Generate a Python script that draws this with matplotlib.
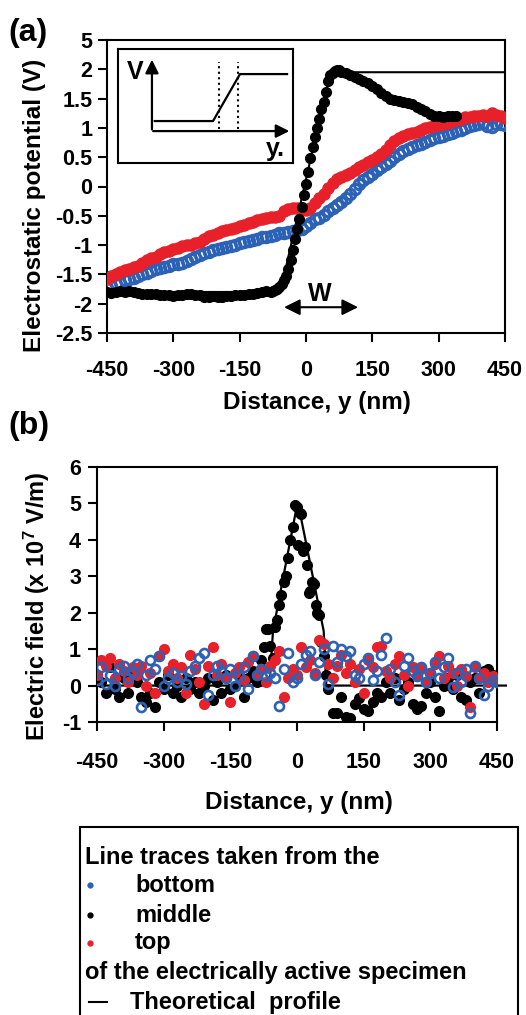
import matplotlib.pyplot as plt
from matplotlib.lines import Line2D
from matplotlib.patches import Rectangle

plt.rcParams['font.family'] = ['Liberation Sans', 'DejaVu Sans']
plt.rcParams['font.weight'] = 'bold'
plt.rcParams['axes.unicode_minus'] = False
plt.rcParams['mathtext.fontset'] = 'custom'
plt.rcParams['mathtext.rm'] = 'Liberation Sans:bold'
plt.rcParams['mathtext.it'] = 'Liberation Sans:bold'
plt.rcParams['mathtext.bf'] = 'Liberation Sans:bold'

RED = '#e8202a'
BLUE = '#2c62b6'

# ---------------- panel (a): electrostatic potential ----------------
xa = list(range(-450, 451, 10))
pot_top = [-1.57, -1.52, -1.49, -1.46, -1.42, -1.40, -1.37, -1.35, -1.30, -1.26,
           -1.22, -1.20, -1.15, -1.12, -1.10, -1.07, -1.05, -1.02, -1.00, -0.99,
           -0.96, -0.95, -0.90, -0.85, -0.82, -0.80, -0.76, -0.74, -0.72, -0.70,
           -0.67, -0.66, -0.62, -0.60, -0.58, -0.55, -0.53, -0.52, -0.52, -0.50,
           -0.42, -0.38, -0.36, -0.37, -0.38, -0.40, -0.36, -0.28, -0.20, -0.12,
           -0.02, 0.06, 0.12, 0.16, 0.19, 0.23, 0.28, 0.33, 0.37, 0.41,
           0.46, 0.50, 0.55, 0.62, 0.70, 0.78, 0.83, 0.86, 0.89, 0.92,
           0.93, 0.96, 0.99, 1.01, 1.03, 1.05, 1.07, 1.09, 1.11, 1.13,
           1.16, 1.18, 1.19, 1.20, 1.21, 1.22, 1.20, 1.26, 1.22, 1.20, 1.17]
pot_bottom = [-1.73, -1.70, -1.66, -1.64, -1.60, -1.58, -1.56, -1.53, -1.50, -1.47,
              -1.44, -1.41, -1.39, -1.37, -1.35, -1.33, -1.32, -1.30, -1.27, -1.24,
              -1.20, -1.17, -1.14, -1.12, -1.09, -1.07, -1.05, -1.03, -1.01, -0.99,
              -0.97, -0.95, -0.93, -0.91, -0.89, -0.87, -0.86, -0.84, -0.82, -0.80,
              -0.79, -0.77, -0.76, -0.75, -0.72, -0.68, -0.62, -0.56, -0.53, -0.48,
              -0.42, -0.36, -0.31, -0.26, -0.20, -0.13, -0.04, 0.05, 0.11, 0.17,
              0.22, 0.28, 0.33, 0.38, 0.44, 0.50, 0.56, 0.60, 0.64, 0.68,
              0.71, 0.73, 0.76, 0.79, 0.82, 0.85, 0.87, 0.90, 0.92, 0.94,
              0.97, 1.00, 1.03, 1.05, 1.07, 1.08, 1.04, 1.02, 1.06, 1.07, 1.05]

xa_mid = (list(range(-450, -80, 10)) + list(range(-80, 80, 5))
          + list(range(80, 341, 10)))
pot_middle = [-1.80, -1.82, -1.80, -1.79, -1.80, -1.78, -1.80, -1.82, -1.83, -1.83,
              -1.84, -1.84, -1.85, -1.85, -1.86, -1.87, -1.86, -1.85, -1.84, -1.84,
              -1.85, -1.86, -1.88, -1.88, -1.87, -1.88, -1.88, -1.87, -1.87, -1.86,
              -1.86, -1.85, -1.84, -1.84, -1.82, -1.80, -1.78,
              -1.80, -1.79, -1.77, -1.75, -1.72, -1.66, -1.60, -1.52, -1.40, -1.25,
              -1.08, -0.90, -0.72, -0.55, -0.35, -0.15, 0.05, 0.25, 0.48, 0.68,
              0.85, 1.00, 1.15, 1.32, 1.45, 1.62, 1.80, 1.90, 1.94, 1.97,
              1.99, 1.98,
              1.96, 1.93, 1.90, 1.87, 1.84, 1.80, 1.77, 1.72, 1.66, 1.60,
              1.55, 1.50, 1.48, 1.46, 1.44, 1.42, 1.40, 1.35, 1.32, 1.28,
              1.24, 1.21, 1.20, 1.19, 1.20, 1.20, 1.21]

theory_a_x = [-450, -58, 55, 450]
theory_a_v = [-1.80, -1.80, 1.95, 1.95]

xticks = [-450, -300, -150, 0, 150, 300, 450]
yticks_a = [-2.5, -2, -1.5, -1, -0.5, 0, 0.5, 1, 1.5, 2, 2.5]
ylabels_a = ['-2.5', '-2', '-1.5', '-1', '-0.5', '0', '0.5', '1', '1.5', '2', '5']

# inset schematic
inset_x = [0.21, 0.543, 0.697, 0.966]
inset_v = [0.368, 0.368, 0.78, 0.78]
inset_marks = [0.577, 0.686]

# ---------------- panel (b): electric field ----------------
xb = list(range(-450, 451, 10))
field_top = [0.3, 0.7, 0.55, 0.75, 0.2, 0.6, 0.4, 0.1, 0.5, 0.3,
             0.55, 0.0, 0.35, -0.2, 0.8, 1.0, 0.4, 0.6, 0.2, 0.5,
             -0.2, 0.85, 0.45, 0.1, -0.5, 0.55, 1.05, 0.3, 0.6, 0.2,
             -0.45, 0.35, 0.5, 0.15, 0.65, 0.8, 0.3, 0.45, 0.1, 0.55,
             0.7, 0.95, -0.3, 0.2, 0.45, 0.3, 1.05, 0.5, 0.7, 0.35,
             1.25, 1.15, 0.6, 0.2, 0.55, 0.85, 0.35, 0.6, 0.1, 0.45,
             -0.2, 0.7, 0.5, 1.05, 1.1, 0.4, 0.2, 0.6, 0.8, 0.3,
             0.0, 0.5, 0.25, 0.45, 0.1, 0.35, 0.6, 0.8, 0.2, 0.55,
             0.35, 0.0, 0.45, 0.25, -0.6, 0.5, 0.2, 0.35, 0.1, 0.25, 0.1]
field_bottom = [0.15, 0.5, 0.05, 0.3, 0.0, 0.45, 0.55, 0.2, 0.35, 0.6,
                -0.6, 0.3, 0.7, 0.45, 0.8, 0.0, 0.2, 0.35, 0.1, 0.25,
                0.05, 0.4, 0.55, 0.75, 0.9, -0.25, 0.3, 0.55, 0.4, 0.2,
                0.45, 0.0, 0.25, 0.5, -0.1, 0.8, 0.3, 0.45, 0.25, 0.35,
                0.2, -0.55, 0.45, 0.9, 0.1, 0.2, 0.6, 0.85, 0.95, 0.3,
                0.65, 1.0, 0.05, 1.1, 0.65, 1.0, 0.8, 0.95, 0.3, 0.2,
                0.6, 0.75, 0.15, 0.4, 0.85, 1.3, 0.45, 0.1, -0.25, 0.55,
                0.75, 0.4, 0.25, 0.5, 0.1, 0.35, 0.65, 0.2, 0.5, 0.75,
                -0.05, 0.35, 0.1, 0.45, -0.75, 0.55, 0.2, -0.25, 0.0, 0.15, 0.1]

xb_mid = (list(range(-450, -79, 10))
          + [-75, -70, -65, -60, -55, -50, -45, -40, -35, -30, -25, -20, -15,
             -10, -5, 0, 3, 6, 10, 14, 18, 22, 26, 30, 34, 38, 42, 46, 50,
             55, 60, 65]
          + list(range(70, 451, 10)))
field_middle = [0.3, 0.1, -0.2, 0.5, -0.1, -0.3, 0.2, -0.2, 0.4, 0.1,
                -0.3, -0.45, -0.2, -0.6, 0.1, -0.1, 0.3, -0.2, 0.0, -0.3,
                0.2, -0.1, 0.1, -0.2, 0.0, 0.2, -0.4, 0.1, -0.2, 0.3,
                -0.1, 0.0, 0.3, -0.3, 0.2, 0.4, 0.1, 0.7,
                1.05, 1.55, 1.55, 1.1, 0.75, 1.6, 1.8, 2.2, 2.5, 2.85,
                3.0, 3.5, 4.0, 4.35, 4.95, 4.9, 3.85, 4.75, 4.7, 3.7,
                3.8, 3.3, 2.55, 2.6, 2.85, 2.8, 2.2, 2.0, 1.95, 1.2,
                0.8, 0.3,
                -0.1, -0.75, -0.75, -0.3, -0.85, -0.9, -0.5, -0.35, -0.65, -0.7,
                -0.45, -0.2, -0.3, 0.1, -0.2, 0.2, -0.4, -0.1, 0.1, -0.5,
                -0.65, -0.55, -0.2, 0.1, -0.3, -0.7, 0.0, 0.2, -0.1, 0.3,
                -0.3, -0.4, 0.1, 0.2, -0.2, 0.4, 0.45, 0.3, 0.2]

theory_b_x = [-450, -62, -54, 0, 5, 60, 66, 470]
theory_b_v = [0, 0, 1.5, 4.95, 4.85, 1.5, 0, 0]
yticks_b = [-1, 0, 1, 2, 3, 4, 5, 6]

W, H = 526, 1015


def fx(px):
    return px / W


def fy(py):
    return 1 - py / H


fig = plt.figure(figsize=(W / 100, H / 100), dpi=100)

# ---- panel (a)
ax1 = fig.add_axes([fx(107), fy(333), fx(505) - fx(107), fy(40) - fy(333)])
ax1.plot(theory_a_x, theory_a_v, color='black', lw=1.5, zorder=2)
ax1.plot(xa, pot_bottom, ls='none', marker='o', ms=7.5, mfc='none', mec=BLUE, mew=2.2, zorder=3)
ax1.plot(xa, pot_top, ls='none', marker='o', ms=8, color=RED, zorder=3)
ax1.plot(xa_mid, pot_middle, ls='none', marker='o', ms=7, color='black', zorder=4)
ax1.annotate('', xy=(-56, -2.06), xytext=(124, -2.06),
             arrowprops=dict(arrowstyle='<|-|>', lw=1.5, color='black', mutation_scale=24))
ax1.text(32, -1.83, 'W', fontsize=18, ha='center', va='center')
ax1.set_xlim(-450, 450)
ax1.set_ylim(-2.5, 2.5)
ax1.set_xticks(xticks)
ax1.set_yticks(yticks_a)
ax1.set_yticklabels(ylabels_a)
ax1.tick_params(axis='both', direction='out', length=6.5, width=1.5, labelsize=15.5)
ax1.tick_params(axis='x', pad=13)
ax1.tick_params(axis='y', pad=4)
for s in ax1.spines.values():
    s.set_linewidth(1.5)

# inset schematic
axi = fig.add_axes([fx(118), fy(163), fx(293) - fx(118), fy(49) - fy(163)])
axi.set_xlim(0, 1)
axi.set_ylim(0, 1)
axi.set_xticks([])
axi.set_yticks([])
for s in axi.spines.values():
    s.set_linewidth(1.5)
axi.plot(inset_x, inset_v, color='black', lw=1.6)
for m in inset_marks:
    axi.plot([m, m], [0.3, 0.886], color='black', ls=':', lw=1.5)
axi.annotate('', xy=(0.194, 0.93), xytext=(0.194, 0.27),
             arrowprops=dict(arrowstyle='-|>', lw=1.6, color='black', mutation_scale=20))
axi.annotate('', xy=(0.995, 0.28), xytext=(0.185, 0.28),
             arrowprops=dict(arrowstyle='-|>', lw=1.6, color='black', mutation_scale=20))
axi.text(0.097, 0.80, 'V', fontsize=18, ha='center', va='center')
axi.text(0.90, 0.12, 'y.', fontsize=18, ha='center', va='center')

# ---- panel (b)
ax2 = fig.add_axes([fx(97), fy(722), fx(497) - fx(97), fy(467) - fy(722)])
ax2.plot(theory_b_x, theory_b_v, color='black', lw=1.6, zorder=2, clip_on=False)
ax2.plot(xb_mid, field_middle, ls='none', marker='o', ms=7, color='black', zorder=3)
ax2.plot(xb, field_top, ls='none', marker='o', ms=7, color=RED, zorder=4)
ax2.plot(xb, field_bottom, ls='none', marker='o', ms=6.5, mfc='none', mec=BLUE, mew=1.9, zorder=5)
ax2.set_xlim(-450, 450)
ax2.set_ylim(-1, 6)
ax2.set_xticks(xticks)
ax2.set_yticks(yticks_b)
ax2.tick_params(axis='both', direction='out', length=6.5, width=1.5, labelsize=15.5)
ax2.tick_params(axis='x', pad=15)
ax2.tick_params(axis='y', pad=5)
for s in ax2.spines.values():
    s.set_linewidth(1.5)

# ---- labels
fig.text(fx(8), fy(33), '(a)', fontsize=23, va='center', ha='left')
fig.text(fx(8), fy(426), '(b)', fontsize=23, va='center', ha='left')
fig.text(fx(317), fy(403), 'Distance, y (nm)', fontsize=17.5, ha='center', va='center')
fig.text(fx(299), fy(803), 'Distance, y (nm)', fontsize=17.5, ha='center', va='center')
fig.text(fx(35), fy(205), 'Electrostatic potential (V)', fontsize=17.5,
         rotation=90, ha='center', va='center')
fig.text(fx(37), fy(606), 'Electric field (x 10$^{7}$ V/m)', fontsize=17,
         rotation=90, ha='center', va='center')

# ---- legend box
box = Rectangle((fx(80), fy(1030)), fx(518) - fx(80), fy(827) - fy(1030),
                transform=fig.transFigure, fill=False, lw=1.5, color='black')
fig.add_artist(box)
legend_lines = [
    (857, None, 'Line traces taken from the', 85),
    (885, BLUE, 'bottom', 135),
    (915, 'black', 'middle', 135),
    (943, RED, 'top', 135),
    (973, None, 'of the electrically active specimen', 85),
]
for py, col, txt, tx in legend_lines:
    fig.text(fx(tx), fy(py), txt, fontsize=17, ha='left', va='center')
    if col is not None:
        fig.add_artist(Line2D([fx(90)], [fy(py)], transform=fig.transFigure,
                              marker='o', ms=3.5, color=col, ls='none'))
fig.add_artist(Line2D([fx(89), fx(107)], [fy(1002), fy(1002)],
                      transform=fig.transFigure, color='black', lw=1.5))
fig.text(fx(130), fy(1002), 'Theoretical  profile', fontsize=17, ha='left', va='center')

fig.savefig('out.png', dpi=100)
